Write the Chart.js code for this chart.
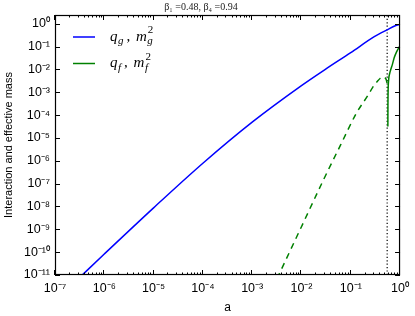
<!DOCTYPE html>
<html><head><meta charset="utf-8">
<script src="https://cdn.jsdelivr.net/npm/chart.js@4/dist/chart.umd.min.js"></script>
<style>html,body{margin:0;padding:0;background:#fff}canvas{display:block}</style>
</head><body>
<canvas id="c" width="415" height="316"></canvas>
<script>
// ---- text ----
const titleText = 'β₁ =0.48, β₄ =0.94';
const xAxisLabel = 'a';
const yAxisLabel = 'Interaction and effective mass';

// ---- ticks ----
const xTickValues = [1e-7, 1e-6, 1e-5, 1e-4, 1e-3, 1e-2, 1e-1, 1];
const xTickLabels = ['10⁻⁷', '10⁻⁶', '10⁻⁵', '10⁻⁴', '10⁻³', '10⁻²', '10⁻¹', '10⁰'];
const yTickValues = [1e-11, 1e-10, 1e-9, 1e-8, 1e-7, 1e-6, 1e-5, 1e-4, 1e-3, 1e-2, 1e-1, 1];
const yTickLabels = ['10⁻¹¹', '10⁻¹⁰', '10⁻⁹', '10⁻⁸', '10⁻⁷', '10⁻⁶', '10⁻⁵', '10⁻⁴', '10⁻³', '10⁻²', '10⁻¹', '10⁰'];
const xMin = 1e-7, xMax = 1;
const yMin = 1e-11, yMax = 2.4;

// ---- series: q_g, m_g^2 (blue) ----
const gA = [3.0e-7, 1e-6, 1e-5, 1e-4, 1e-3, 1e-2, 3e-2, 1e-1, 0.3, 0.56, 0.8, 1];
const gY = [7e-12, 8.3e-11, 8.7e-9, 7.8e-7, 4.9e-5, 1.95e-3, 9.8e-3, 0.054, 0.27, 0.55, 0.81, 0.93];

// ---- series: q_f, m_f^2 (green, solid part) ----
const fSolidA = [0.566, 0.568, 0.572, 0.585, 0.62, 0.66, 0.70, 0.76, 0.85, 1.0];
const fSolidY = [3.2e-5, 2.5e-4, 1.0e-3, 3.2e-3, 7e-3, 1.12e-2, 1.66e-2, 3.2e-2, 5.8e-2, 0.11];

// ---- series: green dashed part ----
const fDashA = [3.2e-3, 1e-2, 2.79e-2, 6.3e-2, 0.129, 0.224, 0.277, 0.351, 0.398, 0.443, 0.49, 0.525, 0.545];
const fDashY = [7e-12, 1.3e-9, 1.45e-7, 5.2e-6, 1.17e-4, 7.4e-4, 1.6e-3, 3.1e-3, 4.1e-3, 4.7e-3, 4.4e-3, 3.5e-3, 2.5e-3];

// ---- vertical marker ----
const markerA = 0.548;

const pts = (xs, ys) => xs.map((x, i) => ({x, y: ys[i]}));

const frame = {
  id: 'frame',
  afterDatasetsDraw(chart) {
    const {ctx, chartArea: {left, right, top, bottom}, scales: {x, y}} = chart;
    ctx.save();
    ctx.strokeStyle = '#000';
    ctx.lineWidth = 1;
    ctx.beginPath();
    for (let e = -7; e <= 0; e++) {
      for (let m = 1; m < 10; m++) {
        const v = m * Math.pow(10, e);
        if (v > xMax * 1.0001) break;
        const px = Math.round(x.getPixelForValue(v)) - 0.5;
        const L = m === 1 ? 5 : 2.5;
        ctx.moveTo(px, bottom); ctx.lineTo(px, bottom - L);
        ctx.moveTo(px, top); ctx.lineTo(px, top + L);
      }
    }
    yTickValues.forEach(v => {
      const py = Math.round(y.getPixelForValue(v)) + 0.5;
      ctx.moveTo(left, py); ctx.lineTo(left + 5, py);
      ctx.moveTo(right, py); ctx.lineTo(right - 5, py);
    });
    ctx.stroke();
    ctx.lineWidth = 1.2;
    ctx.strokeRect(left + 0.5, top + 0.5, right - left - 1, bottom - top - 1);
    ctx.restore();
  }
};

const mathLegend = {
  id: 'mathLegend',
  afterDraw(chart) {
    const {ctx} = chart;
    const rows = [
      {color: '#0000ff', sub: 'g', y: 37},
      {color: '#008000', sub: 'f', y: 63.5}
    ];
    ctx.save();
    rows.forEach(r => {
      ctx.strokeStyle = r.color; ctx.lineWidth = 1.5;
      ctx.beginPath(); ctx.moveTo(73, r.y); ctx.lineTo(95, r.y); ctx.stroke();
      ctx.fillStyle = '#000';
      ctx.textBaseline = 'alphabetic';
      const base = r.y + 3.5;
      let xx = 110;
      const big = 'italic 15px "Liberation Serif", "DejaVu Serif", serif';
      const small = 'italic 11px "Liberation Serif", "DejaVu Serif", serif';
      const smallUp = '11px "Liberation Serif", "DejaVu Serif", serif';
      ctx.font = big; ctx.fillText('q', xx, base); xx += ctx.measureText('q').width + 0.5;
      ctx.font = small; ctx.fillText(r.sub, xx, base + 3.5); xx += ctx.measureText(r.sub).width + 3;
      ctx.font = '15px "Liberation Serif", serif'; ctx.fillText(',', xx, base); xx += ctx.measureText(', ').width + 2;
      ctx.font = big; ctx.fillText('m', xx, base); xx += ctx.measureText('m').width + 0.5;
      ctx.font = small; ctx.fillText(r.sub, xx, base + 3.5);
      ctx.font = smallUp; ctx.fillText('2', xx + 0.5, base - 7.5);
    });
    ctx.restore();
  }
};

new Chart(document.getElementById('c'), {
  type: 'line',
  data: {
    datasets: [
      {label: 'q_g, m_g^2', data: pts(gA, gY), borderColor: '#0000ff', borderWidth: 1.5, pointRadius: 0, cubicInterpolationMode: 'monotone', fill: false},
      {label: 'q_f, m_f^2', data: pts(fSolidA, fSolidY), borderColor: '#008000', borderWidth: 1.5, pointRadius: 0, cubicInterpolationMode: 'monotone', fill: false},
      {label: 'q_f dashed', data: pts(fDashA, fDashY), borderColor: '#008000', borderWidth: 1.5, borderDash: [6, 5], pointRadius: 0, cubicInterpolationMode: 'monotone', fill: false},
      {label: 'marker', data: [{x: markerA, y: yMin}, {x: markerA, y: yMax}], borderColor: '#000', borderWidth: 1.2, borderDash: [1.2, 2.2], pointRadius: 0, fill: false}
    ]
  },
  options: {
    responsive: false,
    animation: false,
    layout: {padding: {left: 0, right: 13, top: 0, bottom: 0}},
    plugins: {
      legend: {display: false},
      tooltip: {enabled: false},
      title: {display: true, text: titleText, color: '#222', font: {family: '"Liberation Serif", "DejaVu Serif", serif', size: 10, weight: 'normal'}, padding: {top: 1, bottom: 2}}
    },
    scales: {
      x: {
        type: 'logarithmic', min: xMin, max: xMax,
        grid: {display: false, drawTicks: false},
        border: {display: false},
        afterBuildTicks: s => { s.ticks = xTickValues.map(v => ({value: v})); },
        afterFit: s => { s.height = 41; },
        ticks: {autoSkip: false, maxRotation: 0, padding: 6, color: '#000', font: {family: '"Liberation Sans", Arial, sans-serif', size: 12.5},
          callback: v => { const i = xTickValues.findIndex(t => Math.abs(Math.log10(t) - Math.log10(v)) < 1e-6); return i >= 0 ? xTickLabels[i] : ''; }},
        title: {display: true, text: xAxisLabel, color: '#000', font: {family: '"Liberation Sans", Arial, sans-serif', size: 12}, padding: {top: 0, bottom: 1.5}}
      },
      y: {
        type: 'logarithmic', min: yMin, max: yMax,
        grid: {display: false, drawTicks: false},
        border: {display: false},
        afterBuildTicks: s => { s.ticks = yTickValues.map(v => ({value: v})); },
        afterFit: s => { s.width = 55; },
        ticks: {autoSkip: false, padding: 5, color: '#000', font: {family: '"Liberation Sans", Arial, sans-serif', size: 12.5},
          callback: v => { const i = yTickValues.findIndex(t => Math.abs(Math.log10(t) - Math.log10(v)) < 1e-6); return i >= 0 ? yTickLabels[i] : ''; }},
        title: {display: true, text: yAxisLabel, color: '#000', font: {family: '"Liberation Sans", Arial, sans-serif', size: 11}, padding: {top: 2, bottom: 0}}
      }
    }
  },
  plugins: [frame, mathLegend]
});
</script>
</body></html>
